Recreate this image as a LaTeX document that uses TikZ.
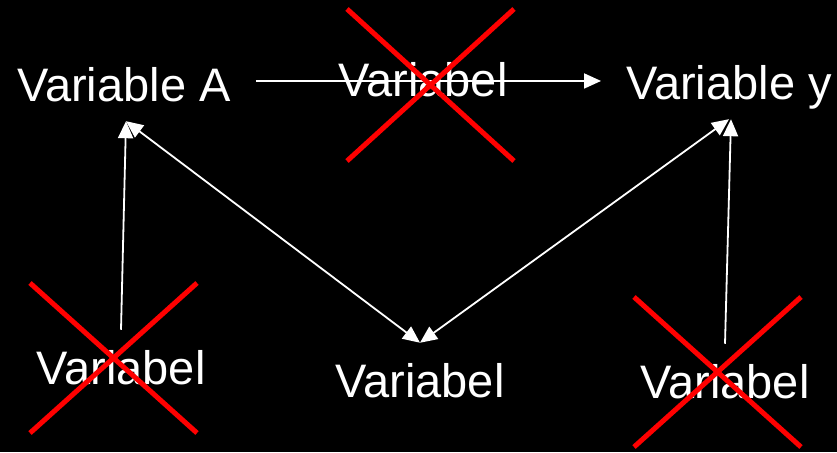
\documentclass[tikz,border=0pt]{standalone}
\usepackage{fontspec}
\setmainfont{Liberation Sans}
\usetikzlibrary{arrows.meta}
\definecolor{crossred}{RGB}{255,0,0}

\begin{document}
\begin{tikzpicture}[x=1pt,y=-1pt,
  var/.style={text=white, font=\fontsize{47}{56}\selectfont, anchor=base,
    text depth=0pt, inner xsep=25pt, inner ysep=20pt},
  link/.style={white, line width=1.8pt, -{Triangle[length=17pt,width=15pt]}},
  twoway/.style={link, {Triangle[length=17pt,width=15pt]}-{Triangle[length=17pt,width=15pt]}},
  cross/.style={crossred, line width=5pt}]
\useasboundingbox (0,0) rectangle (837,452);
\fill[black] (0,0) rectangle (837,452);

% variables
\node[var] (varA) at (124,101) {Variable A};
\node[var] (midtop) at (423,96) {Variabel};
\node[var] (vary) at (729,99) {Variable y};
\node[var] (lowleft) at (121,384) {Variabel};
\node[var] (lowmid) at (420,397) {Variabel};
\node[var] (lowright) at (725,398) {Variabel};

% arrows
\draw[link] ([yshift=3pt]varA.east) -- ([yshift=3pt]varA.east -| vary.west);
\draw[link] (lowleft.north) -- ([xshift=2pt]varA.south);
\draw[link] (lowright.north) -- ([xshift=2pt]vary.south);
\draw[twoway] ([xshift=2pt]varA.south) -- (lowmid.north);
\draw[twoway] (lowmid.north) -- (vary.south);

% crossed out
\draw[cross] (347,9) -- (514,161) (514,9) -- (347,161);
\draw[cross] (30,283) -- (197,433) (197,283) -- (30,433);
\draw[cross] (634,297) -- (801,447) (801,297) -- (634,447);
\end{tikzpicture}
\end{document}
